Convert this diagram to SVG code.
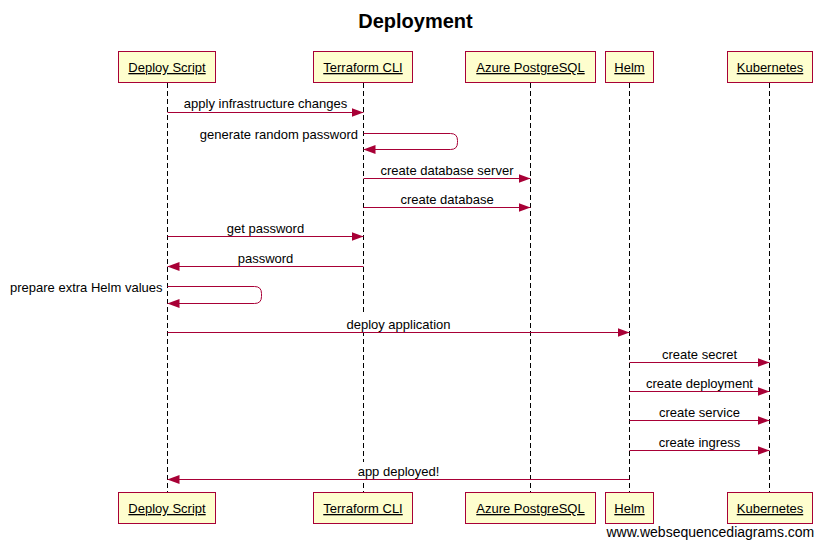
<svg xmlns="http://www.w3.org/2000/svg" width="826" height="547" viewBox="0 0 826 547">
<style>
text{font-family:"Liberation Sans",Arial,sans-serif;font-size:13px;fill:#000}
.title{font-size:20px;font-weight:bold}
.pl{text-anchor:middle;text-decoration:underline}
.box{fill:#FEFECE;stroke:#A80036;stroke-width:1}
.life{stroke:#000;stroke-width:1;stroke-dasharray:5,3;fill:none}
.msg{stroke:#A80036;stroke-width:1;fill:none;marker-end:url(#ah)}
.bg{fill:#fff;stroke:none}
.ml{text-anchor:middle}
.sl{text-anchor:end}
.wm{font-size:14px}
</style>
<defs>
<marker id="ah" markerUnits="userSpaceOnUse" markerWidth="12" markerHeight="9" refX="12" refY="4.5" orient="auto">
<path d="M0,0 L12,4.5 L0,9 z" fill="#A80036"/>
</marker>
</defs>
<text class="title" x="415.5" y="28" text-anchor="middle">Deployment</text>
<g id="lifelines">
<line class="life" x1="167.5" y1="83" x2="167.5" y2="492"/>
<line class="life" x1="363.5" y1="83" x2="363.5" y2="492"/>
<line class="life" x1="530.5" y1="83" x2="530.5" y2="492"/>
<line class="life" x1="629.5" y1="83" x2="629.5" y2="492"/>
<line class="life" x1="769.5" y1="83" x2="769.5" y2="492"/>
</g>
<g id="deploy-script">
<rect class="box" x="118.5" y="51.5" width="97" height="31"/>
<text class="pl" x="167" y="72">Deploy Script</text>
<rect class="box" x="118.5" y="492.5" width="97" height="31"/>
<text class="pl" x="167" y="513">Deploy Script</text>
</g>
<g id="terraform-cli">
<rect class="box" x="313.5" y="51.5" width="99" height="31"/>
<text class="pl" x="363" y="72">Terraform CLI</text>
<rect class="box" x="313.5" y="492.5" width="99" height="31"/>
<text class="pl" x="363" y="513">Terraform CLI</text>
</g>
<g id="azure-postgresql">
<rect class="box" x="465.5" y="51.5" width="130" height="31"/>
<text class="pl" x="530.5" y="72">Azure PostgreSQL</text>
<rect class="box" x="465.5" y="492.5" width="130" height="31"/>
<text class="pl" x="530.5" y="513">Azure PostgreSQL</text>
</g>
<g id="helm">
<rect class="box" x="605.5" y="51.5" width="48" height="31"/>
<text class="pl" x="629.5" y="72">Helm</text>
<rect class="box" x="605.5" y="492.5" width="48" height="31"/>
<text class="pl" x="629.5" y="513">Helm</text>
</g>
<g id="kubernetes">
<rect class="box" x="727.5" y="51.5" width="85" height="31"/>
<text class="pl" x="770" y="72">Kubernetes</text>
<rect class="box" x="727.5" y="492.5" width="85" height="31"/>
<text class="pl" x="770" y="513">Kubernetes</text>
</g>
<g id="connectors">
<line class="msg" x1="167.5" y1="112.5" x2="363.5" y2="112.5"/>
<text class="ml" x="265.5" y="108">apply infrastructure changes</text>
<path class="msg" d="M363.5,133.5 H450.5 Q457.5,133.5 457.5,140.5 V142.5 Q457.5,149.5 450.5,149.5 H363.5"/>
<text class="sl" x="358" y="138.5">generate random password</text>
<line class="msg" x1="363.5" y1="178.5" x2="530.5" y2="178.5"/>
<text class="ml" x="447" y="174.5">create database server</text>
<line class="msg" x1="363.5" y1="207.5" x2="530.5" y2="207.5"/>
<text class="ml" x="447" y="203.5">create database</text>
<line class="msg" x1="167.5" y1="236.5" x2="363.5" y2="236.5"/>
<text class="ml" x="265.5" y="232.5">get password</text>
<line class="msg" x1="363.5" y1="266.5" x2="167.5" y2="266.5"/>
<text class="ml" x="265.5" y="262.5">password</text>
<path class="msg" d="M167.5,286.5 H254.5 Q261.5,286.5 261.5,293.5 V296.5 Q261.5,303.5 254.5,303.5 H167.5"/>
<text class="sl" x="162.5" y="291.5">prepare extra Helm values</text>
<rect class="bg" x="345.5" y="315" width="106" height="17"/>
<line class="msg" x1="167.5" y1="332.5" x2="629.5" y2="332.5"/>
<text class="ml" x="398.5" y="329">deploy application</text>
<line class="msg" x1="629.5" y1="362.5" x2="769.5" y2="362.5"/>
<text class="ml" x="699.5" y="358.5">create secret</text>
<line class="msg" x1="629.5" y1="391.5" x2="769.5" y2="391.5"/>
<text class="ml" x="699.5" y="387.5">create deployment</text>
<line class="msg" x1="629.5" y1="420.5" x2="769.5" y2="420.5"/>
<text class="ml" x="699.5" y="416.5">create service</text>
<line class="msg" x1="629.5" y1="450.5" x2="769.5" y2="450.5"/>
<text class="ml" x="699.5" y="446.5">create ingress</text>
<rect class="bg" x="353" y="462" width="91" height="17"/>
<line class="msg" x1="629.5" y1="479.5" x2="167.5" y2="479.5"/>
<text class="ml" x="398.5" y="476">app deployed!</text>
</g>
<text class="wm" x="606.5" y="537">www.websequencediagrams.com</text>
</svg>
